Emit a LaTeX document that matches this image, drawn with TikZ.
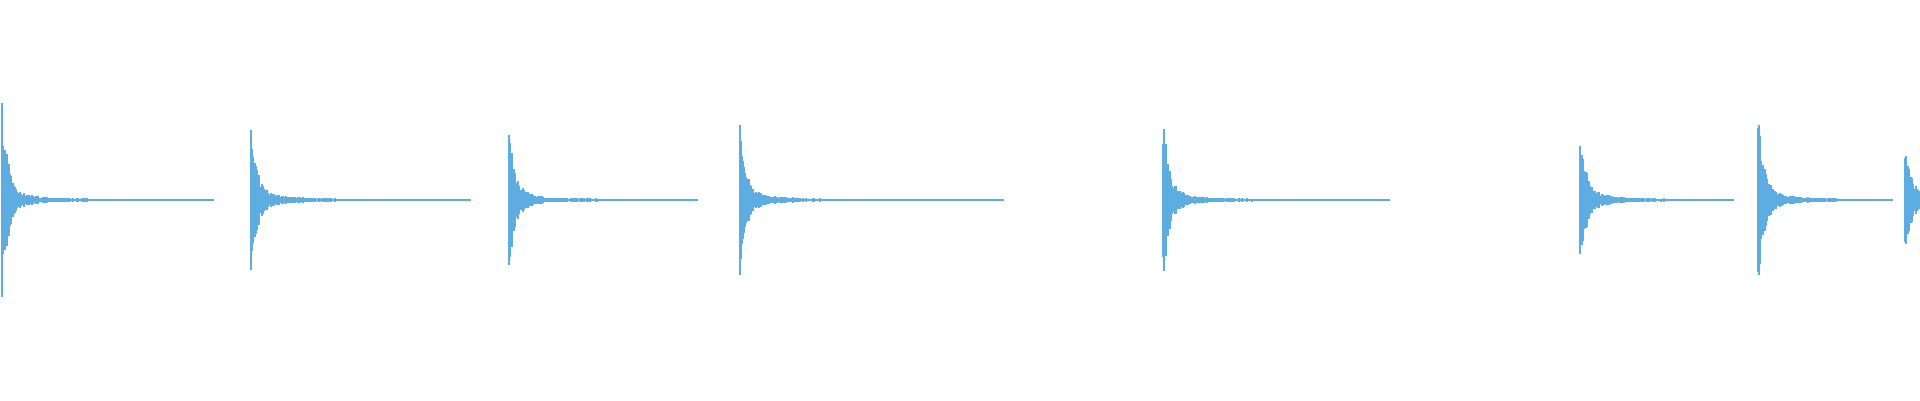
\documentclass[tikz,border=0pt]{standalone}
\begin{document}
\begin{tikzpicture}[x=1pt,y=-1pt]
\definecolor{wave}{HTML}{5DADE2}
\tikzset{bar/.style={wave,line width=1.05pt},axis/.style={wave,line width=1.6pt}}
\pgfmathsetseed{7}
\useasboundingbox (0,0) rectangle (1920,400);
\foreach \xo/\amp/\xe in {2/95/214,251/72/471,509/68/698,740/77/1004,1163/81/1390,1580/71/1733,1758/80/1892,1905/56/1920}{
  \draw[axis] (\xo,200) -- (\xe,200);
  \pgfmathtruncatemacro{\N}{min(\xe-\xo,180)}
  \foreach \t in {0,...,\N}{
    \pgfmathsetmacro{\a}{(\amp*exp(-\t/6)+7*exp(-\t/35)+1)*(0.55+0.45*rnd)}
    \draw[bar] (\xo+\t,200-\a) -- (\xo+\t,200+\a);
  }
}
\end{tikzpicture}
\end{document}
